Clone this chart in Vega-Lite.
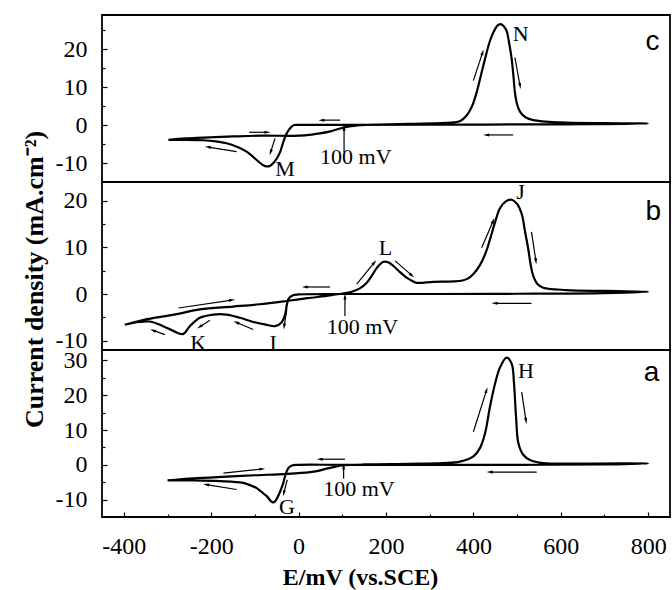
{
"$schema": "https://vega.github.io/schema/vega-lite/v6.json",
"background": "white",
"padding": {"left": 20, "top": 14, "right": 0, "bottom": 0},
"spacing": 0,
"bounds": "flush",
"config": {
 "view": {"stroke": "black", "strokeWidth": 1.8},
 "font": "Liberation Serif",
 "axis": {"grid": false, "domain": false, "tickColor": "black", "tickWidth": 1.2, "labelColor": "black", "labelFont": "Liberation Serif", "labelFontSize": 24, "titleFont": "Liberation Serif", "titleColor": "black", "labelFlush": false, "labelExpr": "replace(datum.label, '\u2212', '-')"}
},
"datasets": {
 "curve": [
  {"p":"c","i":0,"E":-298,"J":-3.9},{"p":"c","i":1,"E":-260,"J":-3.5},{"p":"c","i":2,"E":-218,"J":-3.3},{"p":"c","i":3,"E":-150,"J":-3.0},{"p":"c","i":4,"E":-88,"J":-2.8},{"p":"c","i":5,"E":3,"J":-2.8},{"p":"c","i":6,"E":30,"J":-2.5},{"p":"c","i":7,"E":49,"J":-2.2},{"p":"c","i":8,"E":75,"J":-1.6},{"p":"c","i":9,"E":95,"J":-0.9},{"p":"c","i":10,"E":120,"J":-0.3},{"p":"c","i":11,"E":140,"J":0},{"p":"c","i":12,"E":250,"J":0.3},{"p":"c","i":13,"E":354,"J":0.7},{"p":"c","i":14,"E":370,"J":1.1},{"p":"c","i":15,"E":385,"J":2.6},{"p":"c","i":16,"E":397,"J":5},{"p":"c","i":17,"E":407.6,"J":8.7},{"p":"c","i":18,"E":417,"J":13},{"p":"c","i":19,"E":426.6,"J":17.4},{"p":"c","i":20,"E":436,"J":21.5},{"p":"c","i":21,"E":445.6,"J":24.4},{"p":"c","i":22,"E":455,"J":26.2},{"p":"c","i":23,"E":462,"J":26.6},{"p":"c","i":24,"E":469,"J":26.1},{"p":"c","i":25,"E":476,"J":24.8},{"p":"c","i":26,"E":482,"J":21.5},{"p":"c","i":27,"E":487.7,"J":17.4},{"p":"c","i":28,"E":492,"J":12.5},{"p":"c","i":29,"E":495,"J":8.7},{"p":"c","i":30,"E":500,"J":5.5},{"p":"c","i":31,"E":507,"J":3.5},{"p":"c","i":32,"E":520,"J":2},{"p":"c","i":33,"E":537,"J":1.3},{"p":"c","i":34,"E":598,"J":0.7},{"p":"c","i":35,"E":700,"J":0.5},{"p":"c","i":36,"E":800,"J":0.4},{"p":"c","i":37,"E":700,"J":0.25},{"p":"c","i":38,"E":600,"J":0.2},{"p":"c","i":39,"E":300,"J":0.1},{"p":"c","i":40,"E":100,"J":0.05},{"p":"c","i":41,"E":0,"J":0.05},{"p":"c","i":42,"E":-10,"J":0},{"p":"c","i":43,"E":-16,"J":-0.4},{"p":"c","i":44,"E":-22,"J":-1.2},{"p":"c","i":45,"E":-29,"J":-2.6},{"p":"c","i":46,"E":-36,"J":-4.8},{"p":"c","i":47,"E":-42,"J":-7},{"p":"c","i":48,"E":-50,"J":-8.8},{"p":"c","i":49,"E":-58,"J":-10},{"p":"c","i":50,"E":-65,"J":-10.7},{"p":"c","i":51,"E":-73,"J":-10.9},{"p":"c","i":52,"E":-82,"J":-10.5},{"p":"c","i":53,"E":-92,"J":-9.6},{"p":"c","i":54,"E":-105,"J":-8.3},{"p":"c","i":55,"E":-119,"J":-7},{"p":"c","i":56,"E":-140,"J":-5.8},{"p":"c","i":57,"E":-165,"J":-4.8},{"p":"c","i":58,"E":-190,"J":-4.3},{"p":"c","i":59,"E":-218,"J":-4.0},{"p":"c","i":60,"E":-260,"J":-3.9},{"p":"c","i":61,"E":-298,"J":-3.9},

  {"p":"b","i":0,"E":-398,"J":-6.6},{"p":"b","i":1,"E":-370,"J":-5.9},{"p":"b","i":2,"E":-347,"J":-5.4},{"p":"b","i":3,"E":-279,"J":-4.3},{"p":"b","i":4,"E":-226,"J":-3.3},{"p":"b","i":5,"E":-150,"J":-2.7},{"p":"b","i":6,"E":-90,"J":-2.2},{"p":"b","i":7,"E":-28,"J":-1.5},{"p":"b","i":8,"E":20,"J":-0.9},{"p":"b","i":9,"E":72,"J":-0.3},{"p":"b","i":10,"E":100,"J":0.1},{"p":"b","i":11,"E":125,"J":0.6},{"p":"b","i":12,"E":140,"J":1.2},{"p":"b","i":13,"E":156,"J":2.4},{"p":"b","i":14,"E":168,"J":4},{"p":"b","i":15,"E":179,"J":5.6},{"p":"b","i":16,"E":194,"J":6.9},{"p":"b","i":17,"E":205,"J":6.8},{"p":"b","i":18,"E":217,"J":6.0},{"p":"b","i":19,"E":232,"J":4.7},{"p":"b","i":20,"E":247,"J":3.5},{"p":"b","i":21,"E":260,"J":2.8},{"p":"b","i":22,"E":270,"J":2.4},{"p":"b","i":23,"E":308,"J":2.6},{"p":"b","i":24,"E":354,"J":2.7},{"p":"b","i":25,"E":375,"J":2.9},{"p":"b","i":26,"E":387,"J":3.3},{"p":"b","i":27,"E":400,"J":4.3},{"p":"b","i":28,"E":415,"J":6.2},{"p":"b","i":29,"E":428,"J":8.8},{"p":"b","i":30,"E":438,"J":11.7},{"p":"b","i":31,"E":450,"J":15.5},{"p":"b","i":32,"E":461,"J":18.4},{"p":"b","i":33,"E":475,"J":19.9},{"p":"b","i":34,"E":488,"J":20.2},{"p":"b","i":35,"E":500,"J":19.3},{"p":"b","i":36,"E":510.5,"J":17.2},{"p":"b","i":37,"E":518,"J":13.5},{"p":"b","i":38,"E":525.7,"J":9.6},{"p":"b","i":39,"E":531,"J":6.3},{"p":"b","i":40,"E":537,"J":3.9},{"p":"b","i":41,"E":547,"J":2.1},{"p":"b","i":42,"E":560,"J":1.35},{"p":"b","i":43,"E":613,"J":0.85},{"p":"b","i":44,"E":700,"J":0.65},{"p":"b","i":45,"E":800,"J":0.5},{"p":"b","i":46,"E":700,"J":0.2},{"p":"b","i":47,"E":500,"J":0.05},{"p":"b","i":48,"E":300,"J":0},{"p":"b","i":49,"E":100,"J":0},{"p":"b","i":50,"E":0,"J":-0.1},{"p":"b","i":51,"E":-14,"J":-0.3},{"p":"b","i":52,"E":-22,"J":-0.9},{"p":"b","i":53,"E":-26,"J":-1.9},{"p":"b","i":54,"E":-31,"J":-4.4},{"p":"b","i":55,"E":-39,"J":-6.1},{"p":"b","i":56,"E":-54,"J":-6.9},{"p":"b","i":57,"E":-73,"J":-6.6},{"p":"b","i":58,"E":-104,"J":-6.0},{"p":"b","i":59,"E":-134,"J":-5.1},{"p":"b","i":60,"E":-165,"J":-4.4},{"p":"b","i":61,"E":-195,"J":-4.4},{"p":"b","i":62,"E":-226,"J":-5.1},{"p":"b","i":63,"E":-249,"J":-6.9},{"p":"b","i":64,"E":-265,"J":-8.6},{"p":"b","i":65,"E":-287,"J":-7.9},{"p":"b","i":66,"E":-310,"J":-6.9},{"p":"b","i":67,"E":-340,"J":-5.9},{"p":"b","i":68,"E":-365,"J":-6.0},{"p":"b","i":69,"E":-398,"J":-6.6},

  {"p":"a","i":0,"E":-300,"J":-4.5},{"p":"a","i":1,"E":-241,"J":-3.9},{"p":"a","i":2,"E":-165,"J":-3.4},{"p":"a","i":3,"E":-100,"J":-3.0},{"p":"a","i":4,"E":-27,"J":-2.6},{"p":"a","i":5,"E":26,"J":-2.1},{"p":"a","i":6,"E":50,"J":-1.6},{"p":"a","i":7,"E":64,"J":-1.1},{"p":"a","i":8,"E":85,"J":-0.5},{"p":"a","i":9,"E":100,"J":-0.2},{"p":"a","i":10,"E":150,"J":0.1},{"p":"a","i":11,"E":250,"J":0.3},{"p":"a","i":12,"E":330,"J":0.5},{"p":"a","i":13,"E":369,"J":0.9},{"p":"a","i":14,"E":400,"J":2.4},{"p":"a","i":15,"E":415,"J":4.8},{"p":"a","i":16,"E":426.6,"J":9},{"p":"a","i":17,"E":438,"J":16.7},{"p":"a","i":18,"E":449.5,"J":23.3},{"p":"a","i":19,"E":461,"J":28},{"p":"a","i":20,"E":476,"J":30.8},{"p":"a","i":21,"E":487.7,"J":29},{"p":"a","i":22,"E":493,"J":23.3},{"p":"a","i":23,"E":497.6,"J":13.8},{"p":"a","i":24,"E":503,"J":6.2},{"p":"a","i":25,"E":514,"J":2.9},{"p":"a","i":26,"E":529.6,"J":1.4},{"p":"a","i":27,"E":560,"J":0.5},{"p":"a","i":28,"E":650,"J":0.35},{"p":"a","i":29,"E":800,"J":0.4},{"p":"a","i":30,"E":700,"J":0.1},{"p":"a","i":31,"E":500,"J":0},{"p":"a","i":32,"E":300,"J":0},{"p":"a","i":33,"E":100,"J":0},{"p":"a","i":34,"E":0,"J":0},{"p":"a","i":35,"E":-12,"J":-0.1},{"p":"a","i":36,"E":-20,"J":-0.5},{"p":"a","i":37,"E":-24,"J":-1},{"p":"a","i":38,"E":-30,"J":-2.8},{"p":"a","i":39,"E":-35,"J":-5.2},{"p":"a","i":40,"E":-42,"J":-7.6},{"p":"a","i":41,"E":-49,"J":-9.5},{"p":"a","i":42,"E":-54,"J":-10.5},{"p":"a","i":43,"E":-58,"J":-10.8},{"p":"a","i":44,"E":-63,"J":-10.5},{"p":"a","i":45,"E":-73,"J":-9},{"p":"a","i":46,"E":-85,"J":-7.8},{"p":"a","i":47,"E":-96,"J":-6.7},{"p":"a","i":48,"E":-110,"J":-5.9},{"p":"a","i":49,"E":-127,"J":-5.2},{"p":"a","i":50,"E":-180,"J":-4.7},{"p":"a","i":51,"E":-240,"J":-4.5},{"p":"a","i":52,"E":-300,"J":-4.5}
 ],
 "arrows": [
  {"p":"c","x0":-113,"y0":-1.9,"x1":-72,"y1":-1.9},{"p":"c","x0":-142,"y0":-7,"x1":-207,"y1":-5.8},{"p":"c","x0":-54,"y0":-3.5,"x1":-64,"y1":-7.1},{"p":"c","x0":95,"y0":1.3,"x1":53,"y1":1.3},{"p":"c","x0":400,"y0":11.7,"x1":421,"y1":19.1},{"p":"c","x0":495,"y0":17.8,"x1":506.7,"y1":10.4},{"p":"c","x0":491,"y0":-2.6,"x1":430,"y1":-2.6},{"p":"c","x0":104,"y0":-7.2,"x1":104,"y1":-0.8},
  {"p":"b","x0":-275,"y0":-3.0,"x1":-153,"y1":-1.3},{"p":"b","x0":-306,"y0":-8.7,"x1":-333,"y1":-7.8},{"p":"b","x0":-203,"y0":-5.6,"x1":-226,"y1":-7.0},{"p":"b","x0":-104,"y0":-7.6,"x1":-142,"y1":-6.1},{"p":"b","x0":-27,"y0":-3.3,"x1":-33,"y1":-6.9},{"p":"b","x0":72,"y0":1.5,"x1":15,"y1":1.5},{"p":"b","x0":133,"y0":2.1,"x1":173,"y1":6.7},{"p":"b","x0":221,"y0":7.1,"x1":259,"y1":4.0},{"p":"b","x0":419,"y0":9.9,"x1":445,"y1":15.6},{"p":"b","x0":533,"y0":13.3,"x1":543,"y1":7.1},{"p":"b","x0":533,"y0":-2.0,"x1":449,"y1":-2.0},{"p":"b","x0":106,"y0":-4.7,"x1":106,"y1":-0.6},
  {"p":"a","x0":-172,"y0":-2.4,"x1":-84,"y1":-1.2},{"p":"a","x0":-142,"y0":-7.1,"x1":-211,"y1":-5.7},{"p":"a","x0":-26,"y0":-4.3,"x1":-34,"y1":-8.1},{"p":"a","x0":106,"y0":1.6,"x1":49,"y1":1.6},{"p":"a","x0":400,"y0":9.5,"x1":430,"y1":21.4},{"p":"a","x0":510.5,"y0":20.9,"x1":520.4,"y1":12.7},{"p":"a","x0":545,"y0":-2.1,"x1":438,"y1":-2.1},{"p":"a","x0":103,"y0":-4.0,"x1":103,"y1":-0.6}
 ],
 "labels": [
  {"p":"c","k":"t","x":-31,"y":-11.5,"t":"M"},{"p":"c","k":"t","x":508,"y":23.9,"t":"N"},{"p":"c","k":"t","x":131,"y":-8.5,"t":"100 mV"},{"p":"c","k":"p","x":810,"y":21.8,"t":"c"},
  {"p":"b","k":"t","x":199,"y":9.8,"t":"L"},{"p":"b","k":"t","x":508,"y":21.9,"t":"J"},{"p":"b","k":"t","x":-230,"y":-10.4,"t":"K"},{"p":"b","k":"t","x":-58,"y":-10.4,"t":"I"},{"p":"b","k":"t","x":146,"y":-7.0,"t":"100 mV"},{"p":"b","k":"p","x":812,"y":17.5,"t":"b"},
  {"p":"a","k":"t","x":-27,"y":-12.1,"t":"G"},{"p":"a","k":"t","x":520,"y":27.1,"t":"H"},{"p":"a","k":"t","x":138,"y":-6.9,"t":"100 mV"},{"p":"a","k":"p","x":808,"y":26.3,"t":"a"}
 ]
},
"vconcat": [
 {
  "width": 568, "height": 167,
  "resolve": {"axis": {"x": "independent", "y": "independent"}},
  "layer": [
   {"data": {"name": "curve"}, "transform": [{"filter": "datum.p == 'c'"}],
    "mark": {"type": "line", "color": "black", "strokeWidth": 2.2, "interpolate": "catmull-rom"},
    "encoding": {
     "x": {"field": "E", "type": "quantitative", "scale": {"domain": [-450, 850], "nice": false, "zero": false}, "axis": null},
     "y": {"field": "J", "type": "quantitative", "scale": {"domain": [-15, 29], "nice": false, "zero": false}, "axis": {"orient": "left", "values": [-10, 0, 10, 20], "tickSize": -5, "labelPadding": 20, "title": null}},
     "order": {"field": "i", "type": "quantitative"}}},
   {"data": {"name": "arrows"}, "transform": [{"filter": "datum.p == 'c'"}],
    "mark": {"type": "rule", "color": "black", "strokeWidth": 1.2},
    "encoding": {
     "x": {"field": "x0", "type": "quantitative", "axis": null},
     "y": {"field": "y0", "type": "quantitative", "axis": {"orient": "left", "values": [-5, 5, 15, 25], "tickSize": -3, "labels": false, "title": null}},
     "x2": {"field": "x1"}, "y2": {"field": "y1"}}},
   {"data": {"name": "arrows"}, "transform": [{"filter": "datum.p == 'c'"}, {"calculate": "atan2((datum.x1-datum.x0)*0.43692, (datum.y1-datum.y0)*3.83)*180/PI", "as": "ang"}],
    "mark": {"type": "point", "shape": "M0,-1L0.45,0.8L-0.45,0.8Z", "filled": true, "color": "black", "opacity": 1, "size": 45},
    "encoding": {
     "x": {"field": "x1", "type": "quantitative", "axis": null},
     "y": {"field": "y1", "type": "quantitative", "axis": null},
     "angle": {"field": "ang", "type": "quantitative", "scale": null}}},
   {"data": {"name": "labels"}, "transform": [{"filter": "datum.p == 'c' && datum.k == 't'"}],
    "mark": {"type": "text", "font": "Liberation Serif", "fontSize": 22, "color": "black", "align": "center", "baseline": "middle"},
    "encoding": {
     "x": {"field": "x", "type": "quantitative", "axis": null},
     "y": {"field": "y", "type": "quantitative", "axis": null},
     "text": {"field": "t"}}},
   {"data": {"name": "labels"}, "transform": [{"filter": "datum.p == 'c' && datum.k == 'p'"}],
    "mark": {"type": "text", "font": "Liberation Sans", "fontSize": 28, "color": "black", "align": "center", "baseline": "middle"},
    "encoding": {
     "x": {"field": "x", "type": "quantitative", "axis": null},
     "y": {"field": "y", "type": "quantitative", "axis": null},
     "text": {"field": "t"}}}
  ]
 },
 {
  "width": 568, "height": 168,
  "resolve": {"axis": {"x": "independent", "y": "independent"}},
  "layer": [
   {"data": {"name": "curve"}, "transform": [{"filter": "datum.p == 'b'"}],
    "mark": {"type": "line", "color": "black", "strokeWidth": 2.2, "interpolate": "catmull-rom"},
    "encoding": {
     "x": {"field": "E", "type": "quantitative", "scale": {"domain": [-450, 850], "nice": false, "zero": false}, "axis": null},
     "y": {"field": "J", "type": "quantitative", "scale": {"domain": [-12, 24], "nice": false, "zero": false}, "axis": {"orient": "left", "values": [-10, 0, 10, 20], "tickSize": -5, "labelPadding": 20, "title": "Current density (mA.cm\u207b\u00b2)", "titleFontSize": 26, "titleFontWeight": "bold", "titleAngle": -90, "titleX": -60, "titleY": 97, "titleBaseline": "alphabetic", "titleAlign": "center"}},
     "order": {"field": "i", "type": "quantitative"}}},
   {"data": {"name": "arrows"}, "transform": [{"filter": "datum.p == 'b'"}],
    "mark": {"type": "rule", "color": "black", "strokeWidth": 1.2},
    "encoding": {
     "x": {"field": "x0", "type": "quantitative", "axis": null},
     "y": {"field": "y0", "type": "quantitative", "axis": {"orient": "left", "values": [-5, 5, 15], "tickSize": -3, "labels": false, "title": null}},
     "x2": {"field": "x1"}, "y2": {"field": "y1"}}},
   {"data": {"name": "arrows"}, "transform": [{"filter": "datum.p == 'b'"}, {"calculate": "atan2((datum.x1-datum.x0)*0.43692, (datum.y1-datum.y0)*4.67)*180/PI", "as": "ang"}],
    "mark": {"type": "point", "shape": "M0,-1L0.45,0.8L-0.45,0.8Z", "filled": true, "color": "black", "opacity": 1, "size": 45},
    "encoding": {
     "x": {"field": "x1", "type": "quantitative", "axis": null},
     "y": {"field": "y1", "type": "quantitative", "axis": null},
     "angle": {"field": "ang", "type": "quantitative", "scale": null}}},
   {"data": {"name": "labels"}, "transform": [{"filter": "datum.p == 'b' && datum.k == 't'"}],
    "mark": {"type": "text", "font": "Liberation Serif", "fontSize": 22, "color": "black", "align": "center", "baseline": "middle"},
    "encoding": {
     "x": {"field": "x", "type": "quantitative", "axis": null},
     "y": {"field": "y", "type": "quantitative", "axis": null},
     "text": {"field": "t"}}},
   {"data": {"name": "labels"}, "transform": [{"filter": "datum.p == 'b' && datum.k == 'p'"}],
    "mark": {"type": "text", "font": "Liberation Sans", "fontSize": 28, "color": "black", "align": "center", "baseline": "middle"},
    "encoding": {
     "x": {"field": "x", "type": "quantitative", "axis": null},
     "y": {"field": "y", "type": "quantitative", "axis": null},
     "text": {"field": "t"}}}
  ]
 },
 {
  "width": 568, "height": 167,
  "resolve": {"axis": {"x": "independent", "y": "independent"}},
  "layer": [
   {"data": {"name": "curve"}, "transform": [{"filter": "datum.p == 'a'"}],
    "mark": {"type": "line", "color": "black", "strokeWidth": 2.2, "interpolate": "catmull-rom"},
    "encoding": {
     "x": {"field": "E", "type": "quantitative", "scale": {"domain": [-450, 850], "nice": false, "zero": false}, "axis": {"orient": "bottom", "values": [-400, -200, 0, 200, 400, 600, 800], "tickSize": -5, "labelPadding": 22, "title": "E/mV (vs.SCE)", "titleFontSize": 24, "titleFontWeight": "bold", "titleX": 258, "titleY": 67, "titleBaseline": "alphabetic", "titleAlign": "center"}},
     "y": {"field": "J", "type": "quantitative", "scale": {"domain": [-15, 33], "nice": false, "zero": false}, "axis": {"orient": "left", "values": [-10, 0, 10, 20, 30], "tickSize": -5, "labelPadding": 20, "title": null}},
     "order": {"field": "i", "type": "quantitative"}}},
   {"data": {"name": "arrows"}, "transform": [{"filter": "datum.p == 'a'"}],
    "mark": {"type": "rule", "color": "black", "strokeWidth": 1.2},
    "encoding": {
     "x": {"field": "x0", "type": "quantitative", "axis": {"orient": "bottom", "values": [-300, -100, 100, 300, 500, 700], "tickSize": -3, "labels": false, "title": null}},
     "y": {"field": "y0", "type": "quantitative", "axis": {"orient": "left", "values": [-5, 5, 15, 25], "tickSize": -3, "labels": false, "title": null}},
     "x2": {"field": "x1"}, "y2": {"field": "y1"}}},
   {"data": {"name": "arrows"}, "transform": [{"filter": "datum.p == 'a'"}, {"calculate": "atan2((datum.x1-datum.x0)*0.43692, (datum.y1-datum.y0)*3.48)*180/PI", "as": "ang"}],
    "mark": {"type": "point", "shape": "M0,-1L0.45,0.8L-0.45,0.8Z", "filled": true, "color": "black", "opacity": 1, "size": 45},
    "encoding": {
     "x": {"field": "x1", "type": "quantitative", "axis": null},
     "y": {"field": "y1", "type": "quantitative", "axis": null},
     "angle": {"field": "ang", "type": "quantitative", "scale": null}}},
   {"data": {"name": "labels"}, "transform": [{"filter": "datum.p == 'a' && datum.k == 't'"}],
    "mark": {"type": "text", "font": "Liberation Serif", "fontSize": 22, "color": "black", "align": "center", "baseline": "middle"},
    "encoding": {
     "x": {"field": "x", "type": "quantitative", "axis": null},
     "y": {"field": "y", "type": "quantitative", "axis": null},
     "text": {"field": "t"}}},
   {"data": {"name": "labels"}, "transform": [{"filter": "datum.p == 'a' && datum.k == 'p'"}],
    "mark": {"type": "text", "font": "Liberation Sans", "fontSize": 28, "color": "black", "align": "center", "baseline": "middle"},
    "encoding": {
     "x": {"field": "x", "type": "quantitative", "axis": null},
     "y": {"field": "y", "type": "quantitative", "axis": null},
     "text": {"field": "t"}}}
  ]
 }
]
}
